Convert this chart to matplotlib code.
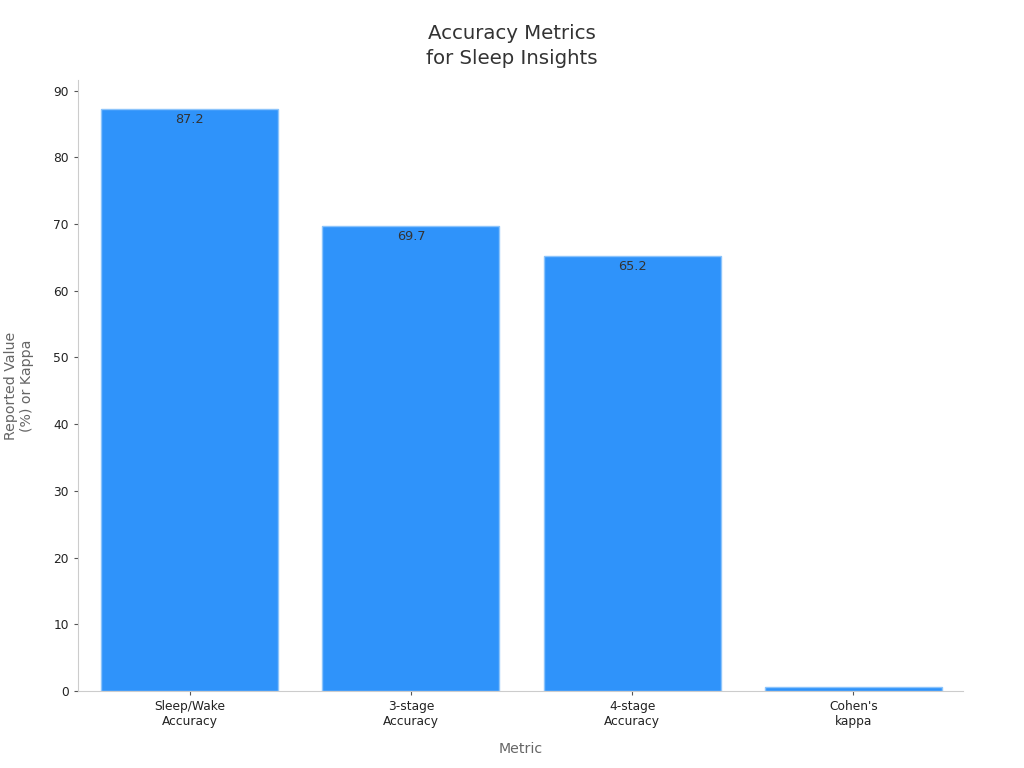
import matplotlib
matplotlib.use("Agg")
import matplotlib.pyplot as plt

categories = ["Sleep/Wake\nAccuracy", "3-stage\nAccuracy", "4-stage\nAccuracy", "Cohen's\nkappa"]
values = [87.2, 69.7, 65.2, 0.56]
labels = ["87.2", "69.7", "65.2", ""]

plt.rcParams['font.family'] = ['DejaVu Sans']

fig = plt.figure(figsize=(10.24, 7.68), dpi=100)
ax = fig.add_axes([78 / 1024, 1 - 691 / 768, (963 - 78) / 1024, (691 - 80) / 768])

x = list(range(len(categories)))
ax.bar(x, values, width=0.8, color="#2f93fa", edgecolor="#8cc4fb", linewidth=1)
for xi, v, lab in zip(x, values, labels):
    if lab:
        ax.text(xi, v - 0.6, lab, ha="center", va="top", fontsize=9.3, color="#333333")

ax.set_xlim(-0.505, 3.495)
ax.set_ylim(0, 91.6)
ax.set_yticks(range(0, 91, 10))
ax.set_xticks(x)
ax.set_xticklabels(categories, fontsize=8.8, color="#222222")
ax.tick_params(axis="y", labelsize=8.8, labelcolor="#222222", color="#555555", length=3)
ax.tick_params(axis="x", color="#555555", length=3)

for s in ["top", "right"]:
    ax.spines[s].set_visible(False)
for s in ["left", "bottom"]:
    ax.spines[s].set_color("#cccccc")

ax.set_xlabel("Metric", fontsize=10.2, color="#666666", labelpad=10)
ax.set_ylabel("Reported Value\n(%) or Kappa", fontsize=10.2, color="#666666", labelpad=14)
fig.text(0.5, 1 - 46 / 768, "Accuracy Metrics\nfor Sleep Insights", ha="center", va="center",
         fontsize=14.2, color="#333333", linespacing=1.4)

fig.savefig("out.png", dpi=100)
